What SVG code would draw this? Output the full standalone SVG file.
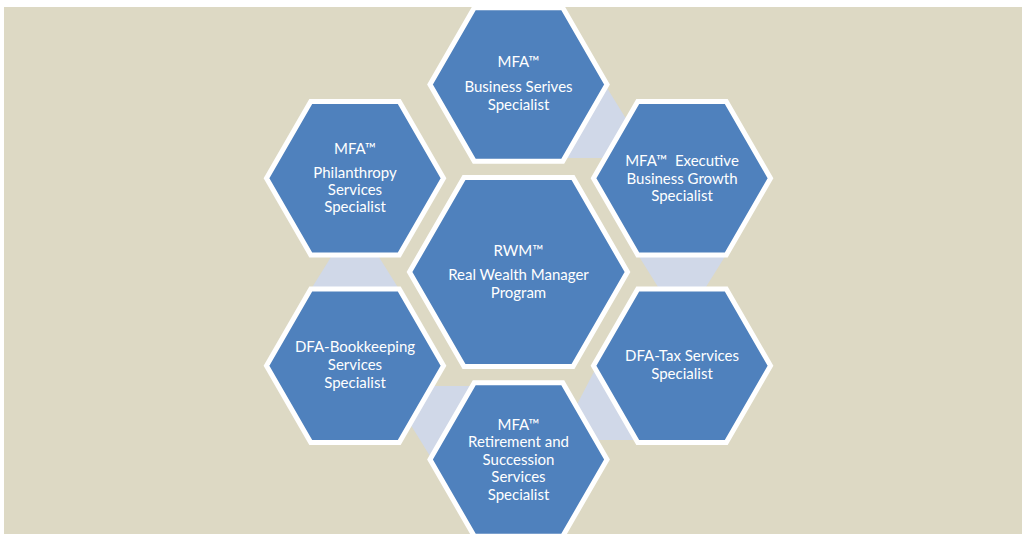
<svg xmlns="http://www.w3.org/2000/svg" xmlns:xlink="http://www.w3.org/1999/xlink" width="1022" height="534" viewBox="0 0 1022 534">
  <style>
    .hex { fill: #4F81BD; stroke: #FFFFFF; stroke-width: 5; stroke-linejoin: miter; }
    .link { fill: #D0D8E8; stroke: none; }
    .label { font-family: Lato, "Open Sans", "Liberation Sans", sans-serif; font-size: 15px; fill: #FFFFFF; text-anchor: middle; }
  </style>
  <defs>
    <!-- flat-topped hexagons centred on the origin -->
    <polygon id="hexSmall" points="-88.5,0 -44.25,-76.64 44.25,-76.64 88.5,0 44.25,76.64 -44.25,76.64"/>
    <polygon id="hexLarge" points="-109,0 -54.5,-94.4 54.5,-94.4 109,0 54.5,94.4 -54.5,94.4"/>
  </defs>

  <!-- page background -->
  <rect x="4" y="7" width="1018" height="527" fill="#DDD9C4"/>

  <!-- connectors between neighbouring outer hexagons (partly hidden under them) -->
  <g id="connectors">
    <polygon class="link" points="599,75 633,130 620,158 550,158 560,100"/>
    <polygon class="link" points="635,250 729,250 701,295 663,295"/>
    <polygon class="link" points="600,360 620,355 650,380 650,440 585,440 569,420"/>
    <polygon class="link" points="438,469 404,414 417,386 487,386 477,444"/>
    <polygon class="link" points="402,294 308,294 336,249 374,249"/>
  </g>

  <g id="node-business">
    <use xlink:href="#hexSmall" class="hex" x="518.5" y="84.5"/>
    <text class="label" x="518.5" y="67">MFA™</text>
    <text class="label" x="518.5" y="92">Business Serives</text>
    <text class="label" x="518.5" y="110">Specialist</text>
  </g>

  <g id="node-executive">
    <use xlink:href="#hexSmall" class="hex" x="682" y="178.25"/>
    <text class="label" x="682" y="166" xml:space="preserve">MFA™  Executive</text>
    <text class="label" x="682" y="183.5">Business Growth</text>
    <text class="label" x="682" y="201">Specialist</text>
  </g>

  <g id="node-tax">
    <use xlink:href="#hexSmall" class="hex" x="682" y="365.75"/>
    <text class="label" x="682" y="360.5">DFA-Tax Services</text>
    <text class="label" x="682" y="378.5">Specialist</text>
  </g>

  <g id="node-retirement">
    <use xlink:href="#hexSmall" class="hex" x="518.5" y="459.5"/>
    <text class="label" x="518.5" y="429.5">MFA™</text>
    <text class="label" x="518.5" y="447">Retirement and</text>
    <text class="label" x="518.5" y="464.5">Succession</text>
    <text class="label" x="518.5" y="482">Services</text>
    <text class="label" x="518.5" y="500">Specialist</text>
  </g>

  <g id="node-bookkeeping">
    <use xlink:href="#hexSmall" class="hex" x="355" y="365.75"/>
    <text class="label" x="355" y="352">DFA-Bookkeeping</text>
    <text class="label" x="355" y="370">Services</text>
    <text class="label" x="355" y="387.5">Specialist</text>
  </g>

  <g id="node-philanthropy">
    <use xlink:href="#hexSmall" class="hex" x="355" y="178.25"/>
    <text class="label" x="355" y="153.5">MFA™</text>
    <text class="label" x="355" y="178">Philanthropy</text>
    <text class="label" x="355" y="195">Services</text>
    <text class="label" x="355" y="212">Specialist</text>
  </g>

  <g id="node-rwm">
    <use xlink:href="#hexLarge" class="hex" x="518.5" y="272"/>
    <text class="label" x="518.5" y="256">RWM™</text>
    <text class="label" x="518.5" y="280">Real Wealth Manager</text>
    <text class="label" x="518.5" y="298">Program</text>
  </g>
</svg>
